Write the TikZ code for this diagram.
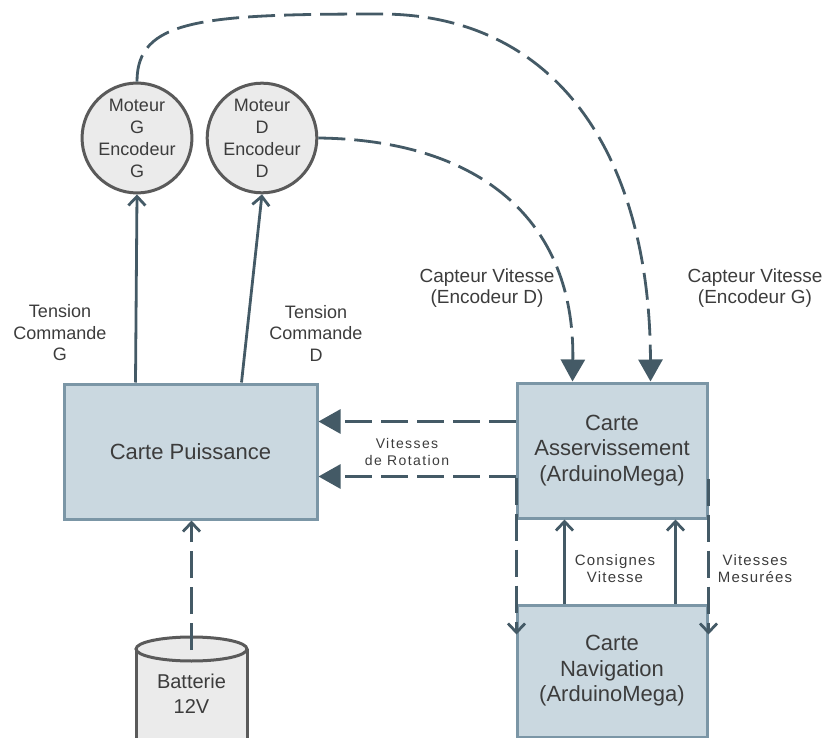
\documentclass[tikz,border=0pt]{standalone}
\usepackage{fontspec}
\setmainfont{Liberation Sans}
\usetikzlibrary{arrows.meta,calc}
\definecolor{boxfill}{HTML}{CAD8E0}
\definecolor{boxdraw}{HTML}{7B96A6}
\definecolor{linec}{HTML}{445A66}
\definecolor{circfill}{HTML}{EBEBEB}
\definecolor{circdraw}{HTML}{5A5A5A}
\definecolor{txt}{HTML}{3C3C3C}
\begin{document}
\begin{tikzpicture}[x=1pt,y=-1pt,
 board/.style={draw=boxdraw,fill=boxfill,line width=3pt,inner sep=0pt,align=center,text=txt,font=\fontsize{22}{25.5}\selectfont},
 motor/.style={circle,draw=circdraw,fill=circfill,line width=3pt,minimum size=108pt,inner sep=0pt,align=center,text=txt,font=\fontsize{18}{22}\selectfont},
 lbl/.style={align=center,text=txt,inner sep=0pt},
 wire/.style={draw=linec,line width=2.8pt},
 dwire/.style={wire,dash pattern=on 27pt off 9pt},
 openhead/.style={-{Straight Barb[length=9pt,width=17pt]}},
 fullhead/.style={-{Triangle[length=22pt,width=24pt]}},
]
\useasboundingbox (0,0) rectangle (830,738);

% boards
\node[board,minimum width=253pt,minimum height=135pt] (pui) at (190.5,451.5) {Carte Puissance};
\node[board,minimum width=190pt,minimum height=135pt] (ass) at (612,450.5) {Carte\\Asservissement\\(ArduinoMega)};
\node[board,minimum width=190pt,minimum height=132pt] (nav) at (612,671) {Carte\\Navigation\\(ArduinoMega)};

% motors
\node[motor] (motG) at (137,138) {Moteur\\G\\Encodeur\\G};
\node[motor] (motD) at (262,138) {Moteur\\D\\Encodeur\\D};

% battery
\begin{scope}
\clip (0,0) rectangle (830,738);
\fill[circfill] (136,649) rectangle (247,760);
\draw[circdraw,line width=3pt] (136,649) -- (136,760) (247,649) -- (247,760);
\draw[circdraw,fill=circfill,line width=3pt] (191.5,649) ellipse [x radius=55.5,y radius=12];
\end{scope}
\node[lbl,font=\fontsize{20}{25}\selectfont] (batt) at (191.5,694) {Batterie\\12V};
\coordinate (battop) at (191.5,650);

% power to motors
\draw[wire,openhead] ($(pui.north west)+(73,0)$) -- (motG.south);
\draw[wire,openhead] ($(pui.north west)+(179,0)$) -- (motD.south);

% speed sensors
\draw[dwire,fullhead] (motD.east) .. controls (480,140) and (575,220) .. ($(ass.north west)+(57,0)$);
\draw[dwire,fullhead] (motG.north) .. controls (137,20) and (200,14) .. (380,14)
   .. controls (560,14) and (650,160) .. ($(ass.north west)+(135,0)$);

% rotation speeds
\draw[dwire,fullhead] ($(ass.north west)+(0,40)$) -- ($(pui.north east)+(0,39)$);
\draw[dwire,fullhead] ($(ass.north west)+(0,95)$) -- ($(pui.north east)+(0,94)$);

% asserv <-> navigation
\draw[dwire,openhead] ($(ass.north west)+(1,96)$) -- ($(nav.north west)+(1,31)$);
\draw[dwire,openhead] ($(ass.north east)+(0,97)$) -- ($(nav.north east)+(0,31)$);
\draw[wire,openhead] ($(nav.north west)+(49,0)$) -- ($(ass.south west)+(49,0)$);
\draw[wire,openhead] ($(nav.north west)+(160,0)$) -- ($(ass.south west)+(160,0)$);

% battery to power
\draw[dwire,openhead] (battop) -- (battop |- pui.south);

% labels
\node[lbl,font=\fontsize{18}{21.5}\selectfont] (tG) at (60,333) {Tension\\Commande\\G};
\node[lbl,font=\fontsize{18}{21.5}\selectfont] (tD) at (316,333) {Tension\\Commande\\D};
\node[lbl,font=\fontsize{19}{21}\selectfont] (cD) at (487,288) {Capteur Vitesse\\(Encodeur D)};
\node[lbl,font=\fontsize{19}{21}\selectfont] (cG) at (755,288) {Capteur Vitesse\\(Encodeur G)};
\node[lbl,font=\fontsize{14}{17}\selectfont\addfontfeature{LetterSpace=10}] (vr) at (407,452) {Vitesses\\de Rotation};
\node[lbl,font=\fontsize{15}{17}\selectfont\addfontfeature{LetterSpace=8}] (cv) at (615,569) {Consignes\\Vitesse};
\node[lbl,font=\fontsize{15}{17}\selectfont\addfontfeature{LetterSpace=8}] (vm) at (755,569) {Vitesses\\Mesurées};
\end{tikzpicture}
\end{document}
